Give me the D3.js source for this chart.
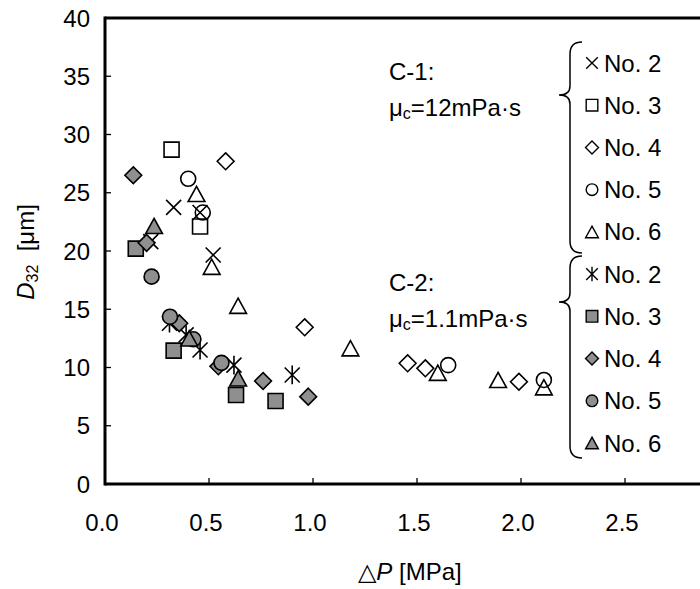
<!DOCTYPE html>
<html>
<meta charset="utf-8"/>
<head>
  <title>D32 vs pressure drop</title>
  <style>
    body { margin: 0; background: #fff; }
    text { font-family: "Liberation Sans", Arial, sans-serif; fill: #000; }
  </style>
</head>
<body>
<svg width="700" height="589"></svg>
<script src="https://cdnjs.cloudflare.com/ajax/libs/d3/7.8.5/d3.min.js"></script>
<script>
// C-1 (mu_c = 12 mPa.s), open / line markers
var c1No2X = [0.33, 0.457, 0.52, 0.22];
var c1No2Y = [23.75, 23.3, 19.66, 20.8];
var c1No3X = [0.32, 0.457];
var c1No3Y = [28.7, 22.1];
var c1No4X = [0.58, 0.96, 1.455, 1.54, 1.99];
var c1No4Y = [27.7, 13.45, 10.36, 9.93, 8.78];
var c1No5X = [0.40, 0.47, 1.65, 2.11];
var c1No5Y = [26.2, 23.3, 10.2, 8.93];
var c1No6X = [0.44, 0.513, 0.64, 1.18, 1.60, 1.89, 2.11];
var c1No6Y = [24.9, 18.65, 15.3, 11.65, 9.55, 8.93, 8.3];

// C-2 (mu_c = 1.1 mPa.s), grey filled markers
var c2No2X = [0.31, 0.39, 0.457, 0.62, 0.90];
var c2No2Y = [13.8, 12.8, 11.5, 10.2, 9.36];
var c2No3X = [0.148, 0.33, 0.63, 0.82];
var c2No3Y = [20.2, 11.45, 7.64, 7.12];
var c2No4X = [0.136, 0.20, 0.357, 0.545, 0.76, 0.977];
var c2No4Y = [26.5, 20.7, 13.8, 10.1, 8.84, 7.5];
var c2No5X = [0.224, 0.3125, 0.425, 0.56];
var c2No5Y = [17.8, 14.36, 12.42, 10.4];
var c2No6X = [0.236, 0.405, 0.64];
var c2No6Y = [22.15, 12.5, 9.07];

var xTicks = [0, 0.5, 1.0, 1.5, 2.0, 2.5, 3.0];
var xTickLabels = ["0.0", "0.5", "1.0", "1.5", "2.0", "2.5"];
var yTicks = [0, 5, 10, 15, 20, 25, 30, 35, 40];
var legendNames = ["No. 2", "No. 3", "No. 4", "No. 5", "No. 6"];

var svg = d3.select("svg");
var grey = "#8f8f8f";
var fs = 24;

var x = d3.scaleLinear().domain([0, 3]).range([105, 729]);
var y = d3.scaleLinear().domain([0, 40]).range([484, 18]);

// marker path builders, s = half size
function shapePath(kind, s) {
  var p = d3.path();
  if (kind == "x") {
    p.moveTo(-s, -s); p.lineTo(s, s);
    p.moveTo(-s, s); p.lineTo(s, -s);
  } else if (kind == "star") {
    p.moveTo(-s, -s); p.lineTo(s, s);
    p.moveTo(-s, s); p.lineTo(s, -s);
    p.moveTo(0, -s * 1.25); p.lineTo(0, s * 1.25);
  } else if (kind == "square") {
    p.rect(-s, -s, 2 * s, 2 * s);
  } else if (kind == "diamond") {
    s = s * 1.12;
    p.moveTo(0, -s); p.lineTo(s, 0); p.lineTo(0, s); p.lineTo(-s, 0); p.closePath();
  } else if (kind == "circle") {
    p.arc(0, 0, s, 0, 2 * Math.PI);
  } else if (kind == "triangle") {
    p.moveTo(0, -s); p.lineTo(s * 1.1, s); p.lineTo(-s * 1.1, s); p.closePath();
  }
  return p.toString();
}

var series = [
  {xs: c1No2X, ys: c1No2Y, kind: "x", fill: "none"},
  {xs: c1No3X, ys: c1No3Y, kind: "square", fill: "none"},
  {xs: c1No4X, ys: c1No4Y, kind: "diamond", fill: "none"},
  {xs: c1No5X, ys: c1No5Y, kind: "circle", fill: "none"},
  {xs: c1No6X, ys: c1No6Y, kind: "triangle", fill: "none"},
  {xs: c2No2X, ys: c2No2Y, kind: "star", fill: "none"},
  {xs: c2No3X, ys: c2No3Y, kind: "square", fill: grey},
  {xs: c2No4X, ys: c2No4Y, kind: "diamond", fill: grey},
  {xs: c2No5X, ys: c2No5Y, kind: "circle", fill: grey},
  {xs: c2No6X, ys: c2No6Y, kind: "triangle", fill: grey}
];

// plot frame
var frame = svg.append("g").attr("stroke", "#000").attr("stroke-width", 3).attr("fill", "none");
frame.append("line").attr("x1", x(0)).attr("x2", x(0)).attr("y1", y(0) + 1.5).attr("y2", y(40) - 1.5);
frame.append("line").attr("x1", x(0)).attr("x2", x(3)).attr("y1", y(40)).attr("y2", y(40));
frame.append("line").attr("x1", x(0)).attr("x2", x(3)).attr("y1", y(0)).attr("y2", y(0));

// ticks (inside)
var tk = svg.append("g").attr("stroke", "#000").attr("stroke-width", 1.3);
tk.selectAll(".xt").data(xTicks.slice(1)).enter().append("line")
  .attr("x1", d => x(d)).attr("x2", d => x(d))
  .attr("y1", y(0)).attr("y2", y(0) - 6);
tk.selectAll(".yt").data(yTicks.slice(1, -1)).enter().append("line")
  .attr("x1", x(0)).attr("x2", x(0) + 6)
  .attr("y1", d => y(d)).attr("y2", d => y(d));

svg.append("g").selectAll("text").data(xTickLabels).enter().append("text")
  .attr("x", d => x(+d) - 3).attr("y", 531)
  .attr("text-anchor", "middle").attr("font-size", fs)
  .text(d => d);
svg.append("g").selectAll("text").data(yTicks).enter().append("text")
  .attr("x", 90).attr("y", d => y(d) + 8.5)
  .attr("text-anchor", "end").attr("font-size", fs)
  .text(d => d);

// axis titles
var xt = svg.append("text").attr("x", 410).attr("y", 580)
  .attr("text-anchor", "middle").attr("font-size", fs);
xt.append("tspan").text("\u25B3");
xt.append("tspan").attr("font-style", "italic").text("P");
xt.append("tspan").text(" [MPa]");

var yt = svg.append("text").attr("transform", "translate(34,252) rotate(-90)")
  .attr("text-anchor", "middle").attr("font-size", fs);
yt.append("tspan").attr("font-style", "italic").text("D");
yt.append("tspan").attr("font-size", 16).attr("dy", 4).text("32");
yt.append("tspan").attr("dy", -4).attr("xml:space", "preserve").text("  [\u03BCm]");

// data markers
series.forEach(function(s) {
  var pts = s.xs.map((v, i) => [v, s.ys[i]]);
  svg.append("g").selectAll("path").data(pts).enter().append("path")
    .attr("transform", d => "translate(" + x(d[0]) + "," + y(d[1]) + ")")
    .attr("d", shapePath(s.kind, s.kind == "triangle" ? 7.6 : 7.5))
    .attr("fill", s.fill)
    .attr("stroke", "#000")
    .attr("stroke-width", 1.6);
});

// legend with braces
var rowY = d3.scaleLinear().domain([0, 9]).range([63, 443]);
var lg = svg.append("g");
series.forEach(function(s, i) {
  var ry = rowY(i);
  lg.append("path")
    .attr("transform", "translate(592," + ry + ")")
    .attr("d", shapePath(s.kind, 5.8))
    .attr("fill", s.fill).attr("stroke", "#000").attr("stroke-width", 1.4);
  lg.append("text").attr("x", 604).attr("y", ry + 8.5).attr("font-size", fs)
    .text(legendNames[i % 5]);
});

function brace(top, mid, bottom) {
  var p = d3.path();
  var xv = 570, xr = 582, xl = 559;
  p.moveTo(xr, top);
  p.quadraticCurveTo(xv, top, xv, top + 12);
  p.lineTo(xv, mid - 9);
  p.quadraticCurveTo(xv, mid, xl, mid);
  p.quadraticCurveTo(xv, mid, xv, mid + 9);
  p.lineTo(xv, bottom - 12);
  p.quadraticCurveTo(xv, bottom, xr, bottom);
  return p.toString();
}
lg.append("path").attr("d", brace(42, 95, 253))
  .attr("fill", "none").attr("stroke", "#000").attr("stroke-width", 1.5);
lg.append("path").attr("d", brace(256, 302, 458))
  .attr("fill", "none").attr("stroke", "#000").attr("stroke-width", 1.5);

function groupLabel(name, mu, yTop) {
  lg.append("text").attr("x", 389).attr("y", yTop).attr("font-size", fs).text(name);
  var t = lg.append("text").attr("x", 389).attr("y", yTop + 36).attr("font-size", fs);
  t.append("tspan").text("\u03BC");
  t.append("tspan").attr("font-size", 16).attr("dy", 3).text("c");
  t.append("tspan").attr("dy", -3).text("=" + mu + "mPa\u00B7s");
}
groupLabel("C-1:", "12", 80);
groupLabel("C-2:", "1.1", 291);
</script>
</body>
</html>
